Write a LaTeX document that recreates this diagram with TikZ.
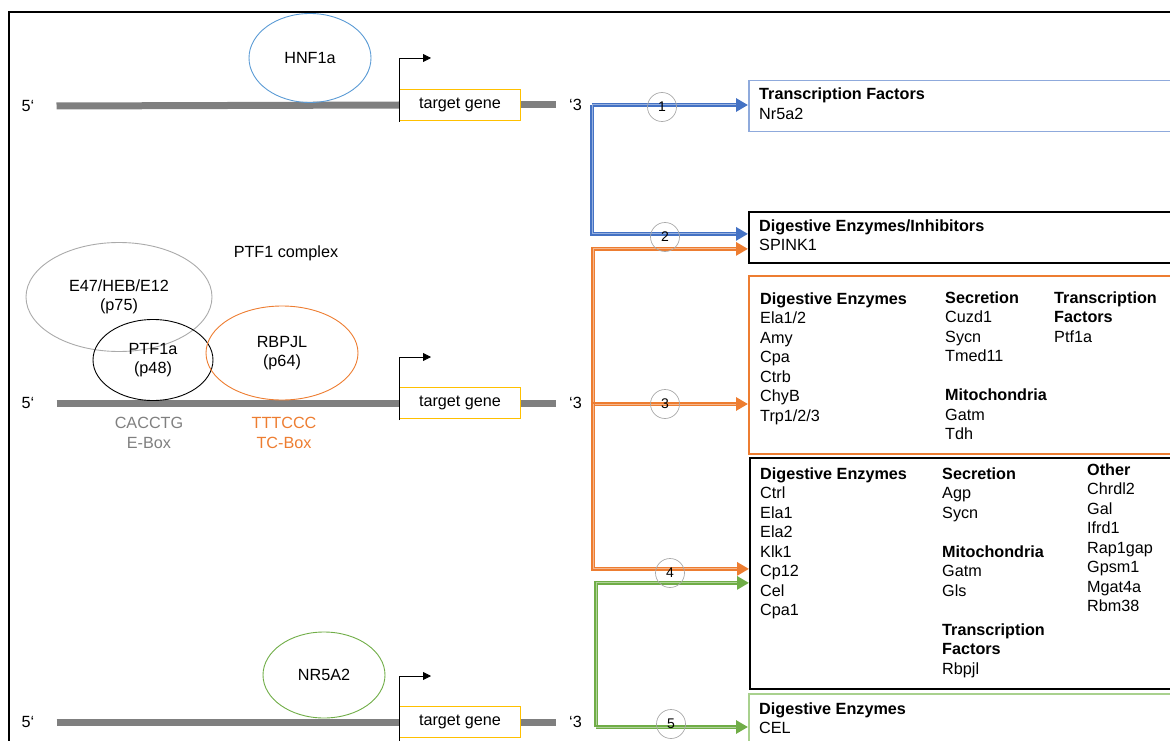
\documentclass[tikz,border=0pt]{standalone}
\usepackage{fontspec}
\setmainfont{Liberation Sans}
\usetikzlibrary{arrows.meta,positioning,shapes.geometric,calc}
\definecolor{offblue}{RGB}{68,114,196}
\definecolor{offltblue}{RGB}{91,155,213}
\definecolor{offpaleblue}{RGB}{143,170,220}
\definecolor{offorange}{RGB}{237,125,49}
\definecolor{offgreen}{RGB}{112,173,71}
\definecolor{offpalegreen}{RGB}{169,209,142}
\definecolor{offgray}{RGB}{127,127,127}
\definecolor{offltgray}{RGB}{170,170,170}
\definecolor{offyellow}{RGB}{255,192,0}
\tikzset{
  dnaline/.style={draw=offgray, line width=7pt},
  genebox/.style={draw=offyellow, fill=white, line width=1pt,
    minimum width=121, minimum height=31, inner sep=0pt},
  factor/.style={ellipse, draw=#1, line width=0.9pt, inner sep=0pt, align=center},
  endlabel/.style={inner sep=0pt},
  tss/.style={-{Triangle[length=8pt,width=8pt]}, line width=0.8pt},
  targetbox/.style={draw=#1, rectangle, line width=1.5pt, minimum width=440,
    anchor=north west, inner sep=0pt},
  numcirc/.style={circle, draw=offltgray, line width=0.7pt, minimum size=29,
    inner sep=0pt, font=\fontsize{14}{16}\selectfont},
  flow/.style={line width=4pt, draw=#1, -{Triangle[length=12pt,width=13pt]},
    postaction={draw=#1!55!white, line width=1pt, -, shorten >=12pt}},
  genelist/.style={anchor=base west, align=left, inner sep=0pt}
}

\begin{document}
\begin{tikzpicture}[x=1pt, y=-1pt, node distance=48pt,
    font=\fontsize{16.2}{19.5}\selectfont]
  \useasboundingbox (0,0) rectangle (1170,741);
  \clip (0,0) rectangle (1170,741);
  \draw[line width=2pt] (9,12) rectangle (1200,780);

  % row 1: HNF1a
  \node[genebox] (gene1) at (460,105) {target gene};
  \node[endlabel, right=of gene1] (three1) {‘3};
  \node[endlabel] (five1) at (28,106) {5‘};
  \draw[dnaline] ([xshift=22]five1.east) -- (gene1.west);
  \draw[dnaline] (gene1.east) -- ([xshift=-13]three1.west);
  \node[factor=offltblue, minimum width=122, minimum height=89] (hnf) at (310,58) {HNF1a};
  \draw[tss] ([yshift=-1]gene1.south west) |- ++(32,-64);

  % row 2: PTF1 complex
  \node[genebox] (gene2) at (460,403) {target gene};
  \node[endlabel, right=of gene2] (three2) {‘3};
  \node[endlabel] (five2) at (28,403) {5‘};
  \draw[dnaline] ([xshift=22]five2.east) -- (gene2.west);
  \draw[dnaline] (gene2.east) -- ([xshift=-13]three2.west);
  \node (ptfc) at (286,253) {PTF1 complex};
  \node[factor=offltgray, minimum width=186, minimum height=109] (e47) at (119,297) {E47/HEB/E12\\(p75)};
  \node[factor=black, minimum width=120, minimum height=81] (ptf1a) at (153,360) {PTF1a\\(p48)};
  \node[factor=offorange, minimum width=152, minimum height=94] (rbpjl) at (282,353) {RBPJL\\(p64)};
  \node[text=offgray, align=center] (ebox) at (149,433) {CACCTG\\E-Box};
  \node[text=offorange, align=center] (tcbox) at (284,433) {TTTCCC\\TC-Box};
  \draw[tss] ([yshift=-1]gene2.south west) |- ++(32,-63);

  % row 3: NR5A2
  \node[genebox] (gene3) at (460,722) {target gene};
  \node[endlabel, right=of gene3] (three3) {‘3};
  \node[endlabel] (five3) at (28,722) {5‘};
  \draw[dnaline] ([xshift=22]five3.east) -- (gene3.west);
  \draw[dnaline] (gene3.east) -- ([xshift=-13]three3.west);
  \node[factor=offgreen, minimum width=122, minimum height=86] (nr5a2) at (324,675) {NR5A2};
  \draw[tss] ([yshift=-4]gene3.south west) |- ++(32,-66);

  % target gene groups
  \node[targetbox=offpaleblue, minimum height=51] (box1) at (748,80) {};
  \node[targetbox=black, minimum height=51, line width=1.8pt] (box2) at (748,211) {};
  \node[targetbox=offorange, minimum height=178] (box3) at (748,275) {};
  \node[targetbox=black, minimum height=231, line width=1.8pt] (box4) at (749,457) {};
  \node[targetbox=offpalegreen, minimum height=80] (box5) at (748,693) {};

  % base anchor = baseline of the last line
  \node[genelist] at (759,119.5) {\textbf{Transcription Factors}\\Nr5a2};
  \node[genelist] at (759,250.5) {\textbf{Digestive Enzymes/Inhibitors}\\SPINK1};
  \node[genelist] at (760,421) {\textbf{Digestive Enzymes}\\Ela1/2\\Amy\\Cpa\\Ctrb\\ChyB\\Trp1/2/3};
  \node[genelist] at (945,439.5) {\textbf{Secretion}\\Cuzd1\\Sycn\\Tmed11\\[19.5pt]\textbf{Mitochondria}\\Gatm\\Tdh};
  \node[genelist] at (1054,342) {\textbf{Transcription}\\\textbf{Factors}\\Ptf1a};
  \node[genelist] at (760,615.5) {\textbf{Digestive Enzymes}\\Ctrl\\Ela1\\Ela2\\Klk1\\Cp12\\Cel\\Cpa1};
  \node[genelist] at (942,674) {\textbf{Secretion}\\Agp\\Sycn\\[19.5pt]\textbf{Mitochondria}\\Gatm\\Gls\\[19.5pt]\textbf{Transcription}\\\textbf{Factors}\\Rbpjl};
  \node[genelist] at (1087,611.5) {\textbf{Other}\\Chrdl2\\Gal\\Ifrd1\\Rap1gap\\Gpsm1\\Mgat4a\\Rbm38};
  \node[genelist] at (759,733.5) {\textbf{Digestive Enzymes}\\CEL};

  % connectors
  \coordinate (bus1) at (592,105);
  \coordinate (bus2) at (593,404);
  \coordinate (bus3) at (596,727);
  \draw[flow=offblue] (bus1) -- (bus1 -| box1.west);
  \draw[flow=offblue] (bus1) |- ([yshift=3.5]box2.west);
  \draw[flow=offorange] (bus2) |- ([yshift=-11.5]box2.west);
  \draw[flow=offorange] (bus2) -- (bus2 -| box3.west);
  \draw[flow=offorange] (bus2) |- ([yshift=4.5]box4.west);
  \draw[flow=offgreen] (bus3) |- ([yshift=-9.5]box4.west);
  \draw[flow=offgreen] (bus3) -- (bus3 -| box5.west);

  \node[numcirc] (c1) at (662,107) {1};
  \node[numcirc] (c2) at (665,237) {2};
  \node[numcirc] (c3) at (665,404) {3};
  \node[numcirc] (c4) at (670,573) {4};
  \node[numcirc] (c5) at (671,724) {5};
\end{tikzpicture}
\end{document}
